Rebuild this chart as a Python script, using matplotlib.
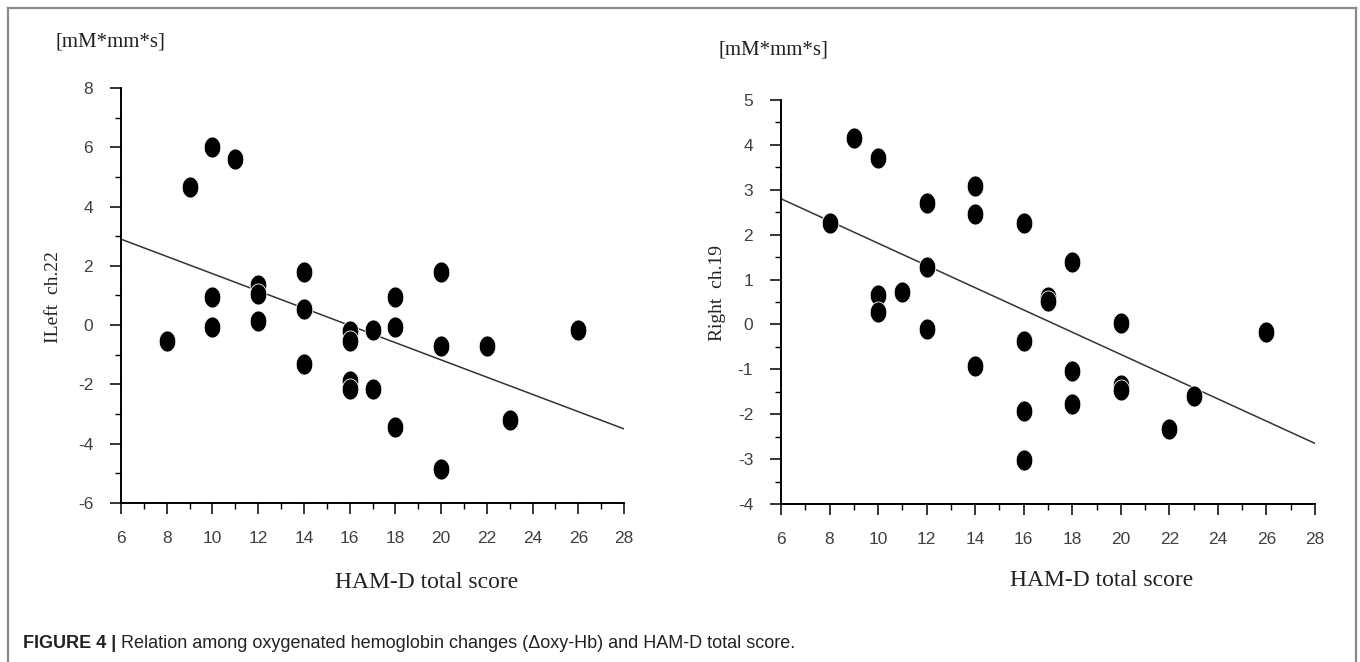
import numpy as np
import matplotlib
matplotlib.use("Agg")
import matplotlib.pyplot as plt
from matplotlib.path import Path
from matplotlib.lines import Line2D
from matplotlib.ticker import MultipleLocator

plt.rcParams["axes.unicode_minus"] = False

# datos
left_x = [8, 9, 10, 10, 10, 11, 12, 12, 12, 14, 14, 14, 16, 16, 16, 16,
          17, 17, 18, 18, 18, 20, 20, 20, 22, 23, 26]
left_y = [-0.55, 4.65, 6.0, 0.95, -0.05, 5.6, 1.35, 1.05, 0.15, 1.8, 0.55, -1.3,
          -0.2, -0.55, -1.9, -2.15, -0.15, -2.15, 0.95, -0.05, -3.45, 1.8, -0.7,
          -4.85, -0.7, -3.2, -0.15]

right_x = [8, 9, 10, 10, 10, 11, 12, 12, 12, 14, 14, 14, 16, 16, 16, 16,
           17, 17, 18, 18, 18, 20, 20, 20, 22, 23, 26]
right_y = [2.27, 4.15, 3.7, 0.65, 0.27, 0.72, 2.7, 1.27, -0.1, 3.08, 2.46, -0.92,
           2.27, -0.36, -1.92, -3.03, 0.62, 0.52, 1.4, -1.04, -1.78, 0.04, -1.35,
           -1.47, -2.33, -1.59, -0.16]

fit_x = [6, 28]
left_fit_y = [2.9, -3.5]
right_fit_y = [2.8, -2.65]

x_ticks = [6, 8, 10, 12, 14, 16, 18, 20, 22, 24, 26, 28]
left_yticks = [-6, -4, -2, 0, 2, 4, 6, 8]
right_yticks = [-4, -3, -2, -1, 0, 1, 2, 3, 4, 5]

serif = ["Liberation Serif", "DejaVu Serif"]
sans = ["Liberation Sans", "DejaVu Sans"]

# marcador un poco ovalado como en el escaneo
t = np.linspace(0, 2 * np.pi, 60)
oval = Path(np.column_stack([0.79 * np.cos(t), np.sin(t)]), closed=True)

fig = plt.figure(figsize=(13.6, 6.62), dpi=100)


def panel(rect, xs, ys, fit_y, ylim, yticks):
    ax = fig.add_axes(rect)
    ax.scatter(xs, ys, s=230, marker=oval, c="black", edgecolors="white",
               linewidths=0.6, zorder=3, clip_on=False)
    ax.plot(fit_x, fit_y, color="#333333", lw=1.1, zorder=2)
    ax.set_xlim(6, 28)
    ax.set_ylim(*ylim)
    ax.set_xticks(x_ticks)
    ax.set_yticks(yticks)
    ax.xaxis.set_minor_locator(MultipleLocator(1))
    ax.yaxis.set_minor_locator(MultipleLocator((yticks[1] - yticks[0]) / 2))
    for s in ["top", "right"]:
        ax.spines[s].set_visible(False)
    for s in ["left", "bottom"]:
        ax.spines[s].set_linewidth(1.4)
    ax.tick_params(which="major", direction="out", length=8, width=1.1,
                   pad=12, labelsize=12.5, labelcolor="#404040")
    ax.tick_params(which="minor", direction="out", length=4, width=1.0)
    for lb in ax.get_xticklabels() + ax.get_yticklabels():
        lb.set_family(sans)
    return ax


panel([121 / 1360, 1 - 503 / 662, 503 / 1360, 415 / 662],
      left_x, left_y, left_fit_y, (-6, 8), left_yticks)
panel([781 / 1360, 1 - 504 / 662, 534 / 1360, 404 / 662],
      right_x, right_y, right_fit_y, (-4, 5), right_yticks)

# textos de los ejes
fig.text(110 / 1360, 1 - 42 / 662, "[mM*mm*s]", family=serif, fontsize=15,
         ha="center", va="center", color="#222222")
fig.text(773 / 1360, 1 - 50 / 662, "[mM*mm*s]", family=serif, fontsize=15,
         ha="center", va="center", color="#222222")
fig.text(53 / 1360, 1 - 297 / 662, "ILeft  ch.22", family=serif, fontsize=14,
         rotation=90, ha="center", va="center", color="#222222")
fig.text(717 / 1360, 1 - 293 / 662, "Right  ch.19", family=serif, fontsize=14,
         rotation=90, ha="center", va="center", color="#222222")
fig.text(427 / 1360, 1 - 582 / 662, "HAM-D total score", family=serif,
         fontsize=17, ha="center", va="center", color="#222222")
fig.text(1102 / 1360, 1 - 581 / 662, "HAM-D total score", family=serif,
         fontsize=17, ha="center", va="center", color="#222222")

# marco gris
frame = dict(color="#8a8a8a", lw=1.6, transform=fig.transFigure)
fig.add_artist(Line2D([8 / 1360, 8 / 1360], [0, 1 - 8 / 662], **frame))
fig.add_artist(Line2D([8 / 1360, 1356 / 1360], [1 - 8 / 662, 1 - 8 / 662], **frame))
fig.add_artist(Line2D([1356 / 1360, 1356 / 1360], [0, 1 - 8 / 662], **frame))

# pie de figura
cap_y = 1 - 644 / 662
t1 = fig.text(23 / 1360, cap_y, "FIGURE 4 | ", family=sans, fontsize=13,
              fontweight="bold", ha="left", va="center", color="#222222")
renderer = fig.canvas.get_renderer()
bb = t1.get_window_extent(renderer=renderer)
fig.text(bb.x1 / fig.bbox.width, cap_y,
         "Relation among oxygenated hemoglobin changes (\u0394oxy-Hb) and HAM-D total score.",
         family=sans, fontsize=13, ha="left", va="center", color="#222222")

fig.savefig("out.png", dpi=100, facecolor="white")
